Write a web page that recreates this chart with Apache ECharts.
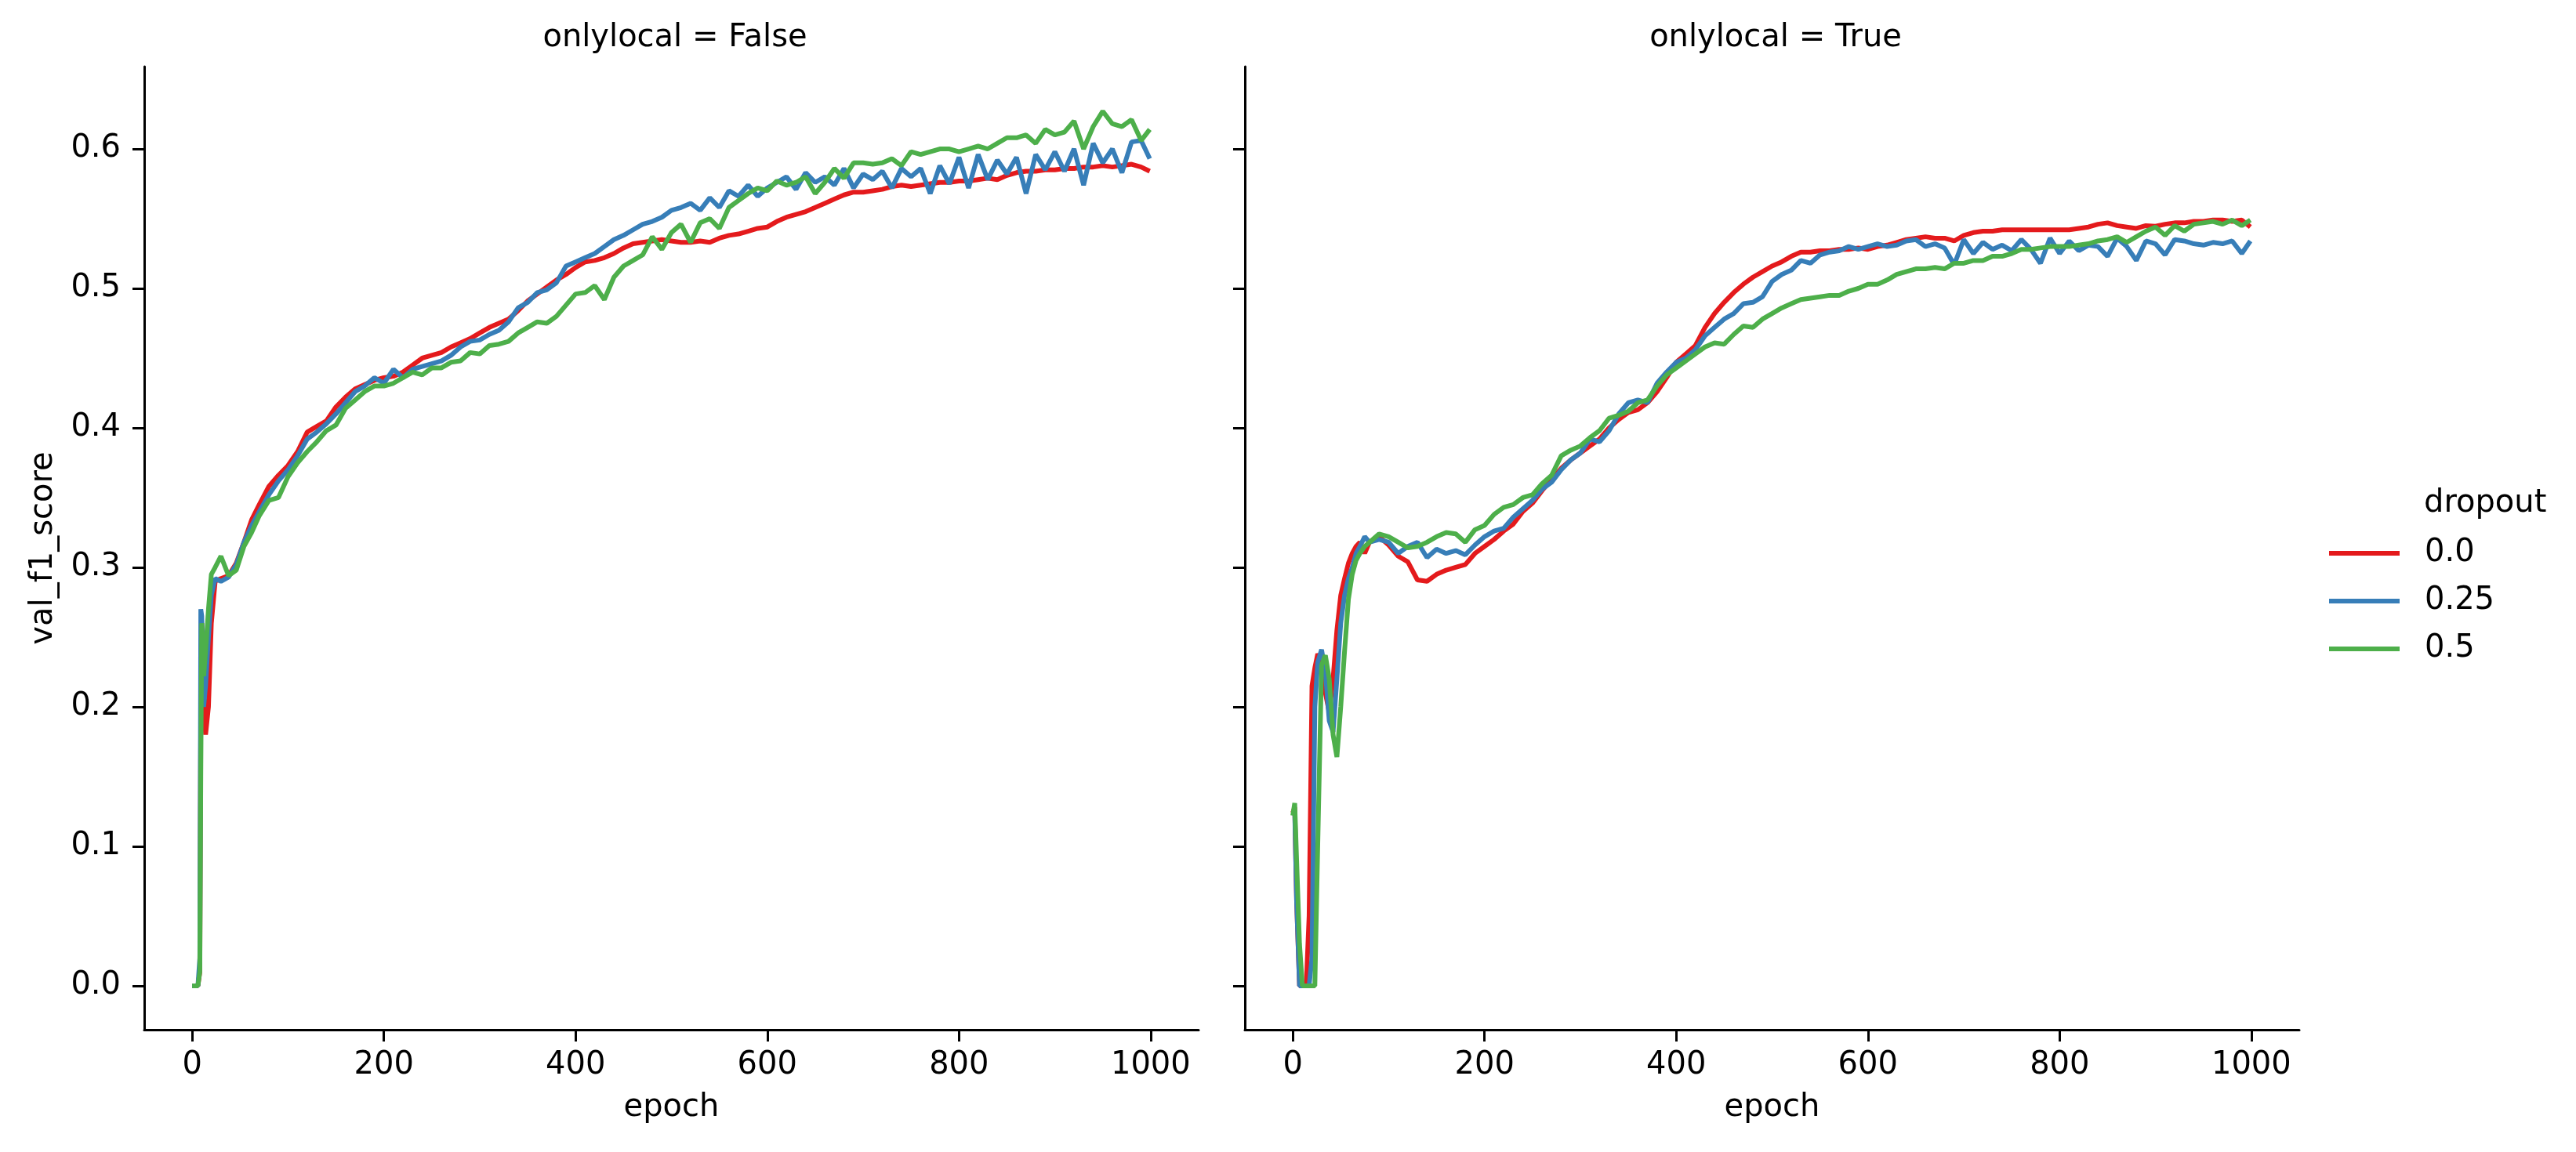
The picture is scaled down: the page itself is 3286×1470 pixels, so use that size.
<!DOCTYPE html>
<html>
<head>
<meta charset="utf-8">
<title>val_f1_score by epoch</title>
<script src="https://cdn.jsdelivr.net/npm/echarts@6/dist/echarts.min.js"></script>
<style>
  html, body { margin: 0; padding: 0; background: #fff; }
  #main { width: 3286px; height: 1470px; }
</style>
</head>
<body>
<div id="main"></div>
<script>
// facet titles + legend
var panelTitles = ['onlylocal = False', 'onlylocal = True'];
var dropouts = ['0.0', '0.25', '0.5'];
var colors = ['#e41a1c', '#377eb8', '#4daf4a'];
var xTicks = [0, 200, 400, 600, 800, 1000];
var yTicks = [0, 0.1, 0.2, 0.3, 0.4, 0.5, 0.6];

// onlylocal = False
var leftEpochs = [0,3,6,8,9,10,12,14,17,20,24,30,38,46,54,62,70,80,90,100,110,120,130,140,150,160,170,180,190,200,210,220,230,240,250,260,270,280,290,300,310,320,330,340,350,360,370,380,390,400,410,420,430,440,450,460,470,480,490,500,510,520,530,540,550,560,570,580,590,600,610,620,630,640,650,660,670,680,690,700,710,720,730,740,750,760,770,780,790,800,810,820,830,840,850,860,870,880,890,900,910,920,930,940,950,960,970,980,990,999];
var leftD00 = [0,0,0,0.01,0.2,0.26,0.21,0.18,0.2,0.26,0.29,0.292,0.294,0.303,0.318,0.334,0.345,0.358,0.366,0.373,0.383,0.397,0.401,0.405,0.415,0.422,0.428,0.431,0.434,0.436,0.437,0.44,0.445,0.45,0.452,0.454,0.458,0.461,0.464,0.468,0.472,0.475,0.478,0.484,0.491,0.496,0.501,0.506,0.51,0.515,0.519,0.52,0.522,0.525,0.529,0.532,0.533,0.534,0.535,0.534,0.533,0.533,0.534,0.533,0.536,0.538,0.539,0.541,0.543,0.544,0.548,0.551,0.553,0.555,0.558,0.561,0.564,0.567,0.569,0.569,0.57,0.571,0.573,0.574,0.573,0.574,0.575,0.576,0.576,0.577,0.577,0.578,0.579,0.578,0.581,0.583,0.584,0.584,0.585,0.585,0.586,0.586,0.587,0.587,0.588,0.587,0.588,0.589,0.587,0.584];
var leftD025 = [0,0,0,0.02,0.27,0.265,0.2,0.215,0.25,0.28,0.292,0.29,0.293,0.302,0.318,0.33,0.34,0.352,0.362,0.37,0.38,0.392,0.397,0.403,0.41,0.418,0.426,0.43,0.436,0.432,0.442,0.436,0.442,0.444,0.446,0.448,0.452,0.458,0.462,0.463,0.467,0.47,0.476,0.486,0.49,0.497,0.499,0.504,0.516,0.519,0.522,0.525,0.53,0.535,0.538,0.542,0.546,0.548,0.551,0.556,0.558,0.561,0.556,0.565,0.558,0.57,0.566,0.574,0.566,0.572,0.576,0.58,0.571,0.583,0.576,0.58,0.574,0.586,0.572,0.582,0.578,0.584,0.572,0.586,0.58,0.586,0.568,0.588,0.575,0.594,0.572,0.596,0.578,0.592,0.582,0.594,0.568,0.596,0.585,0.598,0.584,0.6,0.574,0.604,0.59,0.6,0.583,0.605,0.606,0.593];
var leftD05 = [0,0,0,0.01,0.15,0.26,0.222,0.24,0.27,0.295,0.3,0.308,0.294,0.298,0.315,0.325,0.337,0.348,0.35,0.365,0.375,0.383,0.39,0.398,0.402,0.414,0.42,0.426,0.43,0.43,0.432,0.436,0.44,0.438,0.443,0.443,0.447,0.448,0.454,0.453,0.459,0.46,0.462,0.468,0.472,0.476,0.475,0.48,0.488,0.496,0.497,0.502,0.492,0.508,0.516,0.52,0.524,0.537,0.528,0.54,0.546,0.533,0.547,0.55,0.543,0.558,0.563,0.568,0.572,0.57,0.577,0.574,0.576,0.58,0.568,0.576,0.586,0.579,0.59,0.59,0.589,0.59,0.593,0.588,0.598,0.596,0.598,0.6,0.6,0.598,0.6,0.602,0.6,0.604,0.608,0.608,0.61,0.604,0.614,0.61,0.612,0.62,0.6,0.616,0.627,0.618,0.616,0.621,0.606,0.614];

// onlylocal = True
var rightEpochs = [0,2,4,7,10,14,17,20,23,26,30,34,38,42,46,50,54,58,62,66,70,75,80,90,100,110,120,130,140,150,160,170,180,190,200,210,220,230,240,250,260,270,280,290,300,310,320,330,340,350,360,370,380,390,400,410,420,430,440,450,460,470,480,490,500,510,520,530,540,550,560,570,580,590,600,610,620,630,640,650,660,670,680,690,700,710,720,730,740,750,760,770,780,790,800,810,820,830,840,850,860,870,880,890,900,910,920,930,940,950,960,970,980,990,999];
var rightD00 = [0.124,0.128,0.06,0,0,0,0.05,0.215,0.228,0.238,0.232,0.21,0.196,0.22,0.255,0.28,0.292,0.303,0.31,0.315,0.318,0.31,0.318,0.322,0.316,0.308,0.304,0.291,0.29,0.295,0.298,0.3,0.302,0.31,0.315,0.32,0.326,0.331,0.34,0.346,0.355,0.363,0.371,0.377,0.382,0.387,0.392,0.4,0.406,0.411,0.413,0.418,0.426,0.436,0.447,0.453,0.459,0.472,0.482,0.49,0.497,0.503,0.508,0.512,0.516,0.519,0.523,0.526,0.526,0.527,0.527,0.528,0.528,0.529,0.528,0.53,0.531,0.533,0.535,0.536,0.537,0.536,0.536,0.534,0.538,0.54,0.541,0.541,0.542,0.542,0.542,0.542,0.542,0.542,0.542,0.542,0.543,0.544,0.546,0.547,0.545,0.544,0.543,0.545,0.5445,0.546,0.547,0.547,0.548,0.548,0.549,0.549,0.548,0.549,0.544];
var rightD025 = [0.124,0.125,0.06,0,0,0,0,0.02,0.2,0.232,0.241,0.225,0.19,0.182,0.22,0.26,0.28,0.292,0.3,0.31,0.315,0.322,0.318,0.32,0.318,0.31,0.315,0.318,0.307,0.313,0.31,0.312,0.309,0.316,0.322,0.326,0.328,0.336,0.342,0.348,0.356,0.361,0.37,0.377,0.382,0.392,0.39,0.398,0.41,0.418,0.42,0.418,0.432,0.44,0.447,0.45,0.456,0.466,0.472,0.478,0.482,0.489,0.49,0.494,0.505,0.51,0.513,0.52,0.518,0.524,0.526,0.527,0.53,0.528,0.53,0.532,0.53,0.531,0.534,0.535,0.53,0.532,0.529,0.517,0.535,0.525,0.533,0.528,0.531,0.527,0.535,0.528,0.518,0.536,0.525,0.534,0.527,0.531,0.53,0.523,0.536,0.53,0.52,0.534,0.532,0.524,0.535,0.534,0.532,0.531,0.533,0.532,0.534,0.525,0.534];
var rightD05 = [0.122,0.131,0.09,0.03,0,0,0,0,0,0.1,0.23,0.237,0.22,0.18,0.164,0.2,0.24,0.277,0.295,0.305,0.31,0.315,0.318,0.324,0.322,0.318,0.314,0.315,0.318,0.322,0.325,0.324,0.318,0.327,0.33,0.338,0.343,0.345,0.35,0.352,0.36,0.366,0.38,0.384,0.387,0.393,0.398,0.407,0.409,0.412,0.418,0.42,0.43,0.438,0.443,0.448,0.453,0.458,0.461,0.46,0.467,0.473,0.472,0.478,0.482,0.486,0.489,0.492,0.493,0.494,0.495,0.495,0.498,0.5,0.503,0.503,0.506,0.51,0.512,0.514,0.514,0.515,0.514,0.518,0.518,0.52,0.52,0.523,0.523,0.525,0.528,0.528,0.529,0.53,0.53,0.53,0.531,0.532,0.534,0.535,0.537,0.533,0.537,0.541,0.544,0.538,0.545,0.541,0.546,0.547,0.548,0.546,0.549,0.545,0.549];

var leftSeries = [leftD00, leftD025, leftD05];
var rightSeries = [rightD00, rightD025, rightD05];

function pairs(xs, ys) {
  var out = [];
  for (var i = 0; i < xs.length; i++) {
    out.push([xs[i], ys[i]]);
  }
  return out;
}

var font = 'DejaVu Sans';
var black = '#000';

function makeX(idx) {
  return {
    type: 'value',
    gridIndex: idx,
    min: -50,
    max: 1050,
    name: 'epoch',
    nameLocation: 'middle',
    nameGap: 80,
    nameTextStyle: { fontFamily: font, fontSize: 40, color: black },
    axisLine: { show: true, onZero: false, lineStyle: { color: black, width: 3 } },
    axisTick: { show: true, inside: false, length: 15, lineStyle: { color: black, width: 3 }, customValues: xTicks },
    axisLabel: {
      show: true,
      margin: 26,
      fontFamily: font,
      fontSize: 40,
      color: black,
      customValues: xTicks,
      formatter: function (v) { return String(v); }
    },
    splitLine: { show: false }
  };
}

function makeY(idx, showLabels) {
  return {
    type: 'value',
    gridIndex: idx,
    min: -0.0315,
    max: 0.659,
    name: showLabels ? 'val_f1_score' : '',
    nameLocation: 'middle',
    nameGap: 108,
    nameTextStyle: { fontFamily: font, fontSize: 40, color: black },
    axisLine: { show: true, onZero: false, lineStyle: { color: black, width: 3 } },
    axisTick: { show: true, inside: false, length: 15, lineStyle: { color: black, width: 3 }, customValues: yTicks },
    axisLabel: {
      show: showLabels,
      margin: 30,
      fontFamily: font,
      fontSize: 40,
      color: black,
      customValues: yTicks,
      formatter: function (v) { return v.toFixed(1); }
    },
    splitLine: { show: false }
  };
}

var series = [];
[leftSeries, rightSeries].forEach(function (group, g) {
  var xs = g === 0 ? leftEpochs : rightEpochs;
  group.forEach(function (ys, k) {
    series.push({
      name: dropouts[k],
      type: 'line',
      xAxisIndex: g,
      yAxisIndex: g,
      data: pairs(xs, ys),
      showSymbol: false,
      symbol: 'none',
      color: colors[k],
      lineStyle: { width: 6, color: colors[k] },
      emphasis: { disabled: true },
      z: 2 + k
    });
  });
});

var myChart = echarts.init(document.getElementById('main'), null, { renderer: 'canvas' });

var option = {
  animation: false,
  backgroundColor: '#fff',
  title: [
    { text: panelTitles[0], left: 856, top: 24, textAlign: 'center',
      textStyle: { fontFamily: font, fontSize: 40, fontWeight: 'normal', color: black } },
    { text: panelTitles[1], left: 2260, top: 24, textAlign: 'center',
      textStyle: { fontFamily: font, fontSize: 40, fontWeight: 'normal', color: black } },
    { text: 'dropout', left: 3087, top: 618,
      textStyle: { fontFamily: font, fontSize: 40, fontWeight: 'normal', color: black } }
  ],
  legend: {
    orient: 'vertical',
    left: 2966,
    top: 681,
    itemWidth: 90,
    itemHeight: 6,
    itemGap: 21,
    icon: 'rect',
    data: dropouts,
    textStyle: { fontFamily: font, fontSize: 40, color: black, lineHeight: 40, padding: [0, 0, 0, 27] }
  },
  grid: [
    { left: 184, top: 85, width: 1345, height: 1229 },
    { left: 1588, top: 85, width: 1345, height: 1229 }
  ],
  xAxis: [makeX(0), makeX(1)],
  yAxis: [makeY(0, true), makeY(1, false)],
  series: series
};

myChart.setOption(option);
</script>
</body>
</html>
